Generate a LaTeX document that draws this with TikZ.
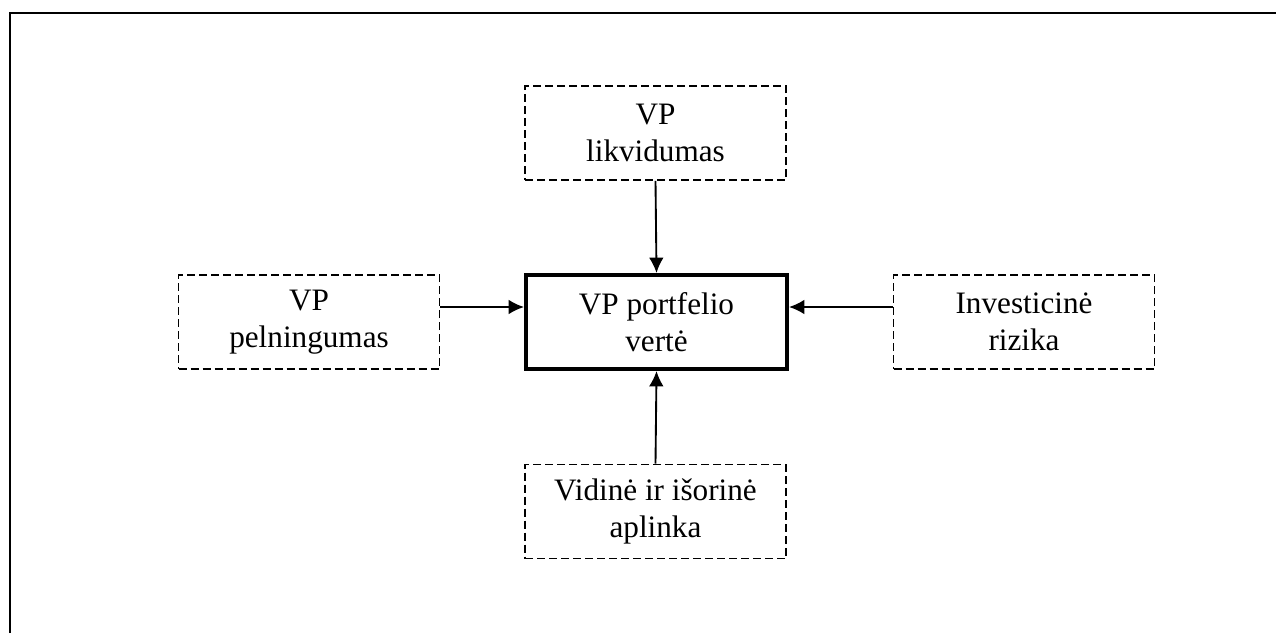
\documentclass[tikz,border=0pt]{standalone}
\usepackage{fontspec}
\setmainfont{Liberation Serif}
\usetikzlibrary{arrows.meta}
\begin{document}
\begin{tikzpicture}[x=0.75pt,y=-0.75pt,
  box/.style={draw, line width=1.35pt, dash pattern=on 6pt off 3pt, minimum width=195.75pt, minimum height=70.5pt, inner sep=0pt, align=center, font=\fontsize{23.4pt}{27.75pt}\selectfont},
  mainbox/.style={box, solid, line width=3pt},
  arr/.style={line width=1.4pt, -{Latex[length=11.5pt,width=11pt]}},
  frame/.style={line width=1.6pt}]
\useasboundingbox (0,0) rectangle (1276,633);
\draw[frame] (10,633) -- (10,13) -- (1276,13);
\node[box] (T) at (655.5,133) {VP\\likvidumas};
\node[box] (L) at (309,322) {VP\\pelningumas};
\node[mainbox] (C) at (656.5,322) {VP portfelio\\vertė};
\node[box] (R) at (1024,322) {Investicinė\\rizika};
\node[box] (B) at (655.5,511.5) {Vidinė ir išorinė\\aplinka};
\coordinate (ay) at (0,307);
\draw[arr] (T.south) -- (C.north);
\draw[arr] (B.north) -- (C.south);
\draw[arr] (L.east |- ay) -- (C.west |- ay);
\draw[arr] (R.west |- ay) -- (C.east |- ay);
\end{tikzpicture}
\end{document}
